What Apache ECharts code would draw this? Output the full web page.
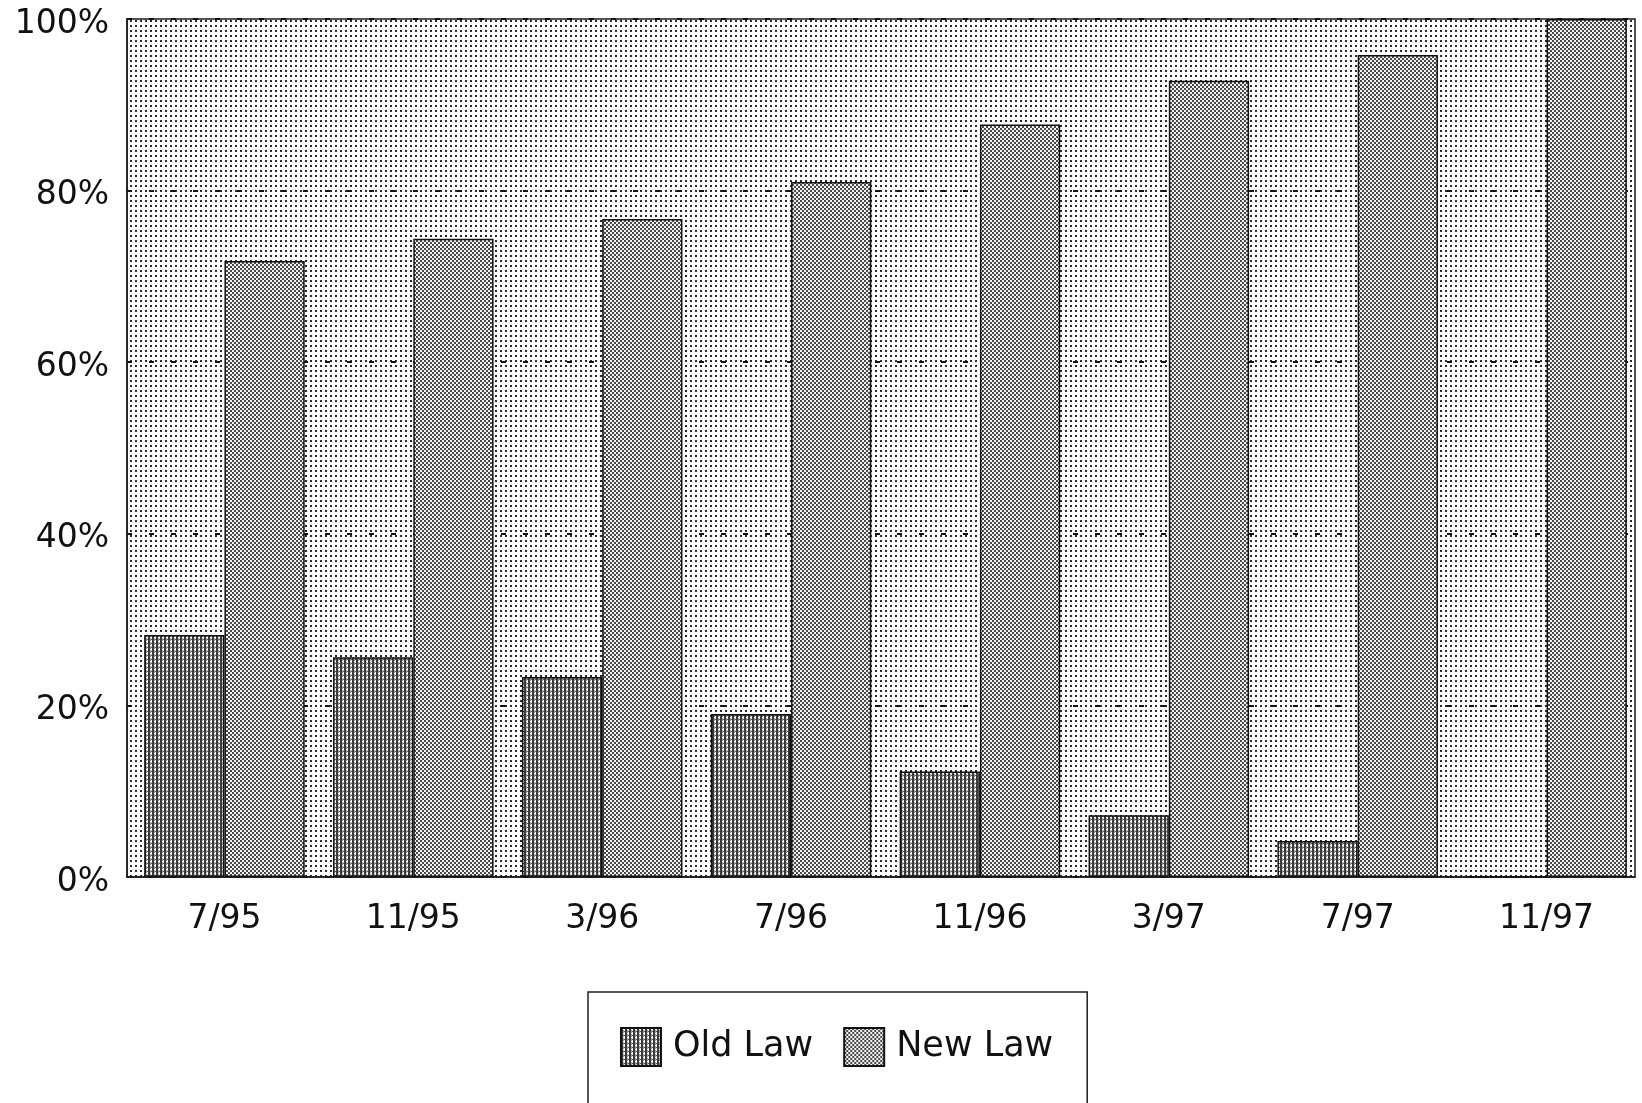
<!DOCTYPE html>
<html>
<head>
<meta charset="utf-8">
<script src="https://cdn.jsdelivr.net/npm/echarts@6/dist/echarts.min.js"></script>
<style>
html,body{margin:0;padding:0;background:#fff;}
#chart{width:1642px;height:1103px;}
</style>
</head>
<body>
<div id="chart"></div>
<script>
const categories = ['7/95', '11/95', '3/96', '7/96', '11/96', '3/97', '7/97', '11/97'];
const oldLaw = [28.2, 25.6, 23.3, 19.0, 12.3, 7.2, 4.2, 0];
const newLaw = [71.8, 74.4, 76.7, 81.0, 87.7, 92.8, 95.8, 100];
const yTicks = [0, 20, 40, 60, 80, 100];

function makePattern(size, draw) {
  const c = document.createElement('canvas');
  c.width = size; c.height = size;
  const ctx = c.getContext('2d');
  draw(ctx);
  return { image: c, repeat: 'repeat' };
}
// light dotted background
const bgPattern = makePattern(5, ctx => {
  ctx.fillStyle = '#ffffff'; ctx.fillRect(0, 0, 5, 5);
  ctx.fillStyle = '#2a2a2a'; ctx.fillRect(0, 0, 2, 2);
});
// New Law: dense checker dots
const newPattern = makePattern(4, ctx => {
  ctx.fillStyle = '#f2f2f2'; ctx.fillRect(0, 0, 4, 4);
  ctx.fillStyle = '#4a4a4a'; ctx.fillRect(0, 0, 2, 2); ctx.fillRect(2, 2, 2, 2);
});
// Old Law: dark vertical lines
const oldPattern = makePattern(4, ctx => {
  ctx.fillStyle = '#3a3a3a'; ctx.fillRect(0, 0, 4, 4);
  ctx.fillStyle = '#9a9a9a'; ctx.fillRect(2, 0, 1, 4);
  ctx.fillStyle = '#eeeeee'; ctx.fillRect(3, 0, 1, 4);
  ctx.fillStyle = '#ffffff'; ctx.fillRect(2, 1, 1, 1);
  ctx.fillStyle = '#555555'; ctx.fillRect(3, 3, 1, 1);
});

const FONT = 'DejaVu Sans';
const chart = echarts.init(document.getElementById('chart'), null, { renderer: 'canvas' });
chart.setOption({
  animation: false,
  backgroundColor: '#ffffff',
  grid: [
    { // frame, background, y axis
      left: 127, top: 19, right: 7, bottom: 226,
      show: true,
      backgroundColor: bgPattern,
      borderColor: '#1a1a1a',
      borderWidth: 1.5
    },
    { // bars & category labels
      left: 130, top: 19, right: 1, bottom: 226
    }
  ],
  legend: {
    left: 588, top: 992,
    data: ['Old Law', 'New Law'],
    padding: [35, 34, 40, 32],
    borderColor: '#222',
    borderWidth: 1.5,
    itemWidth: 40,
    itemHeight: 38,
    itemGap: 30,
    icon: 'rect',
    textStyle: { fontFamily: FONT, fontSize: 35, color: '#111', padding: [0, 0, 0, 7] }
  },
  xAxis: [
    {
      type: 'category', gridIndex: 0,
      data: categories,
      axisLine: { show: true, lineStyle: { color: '#1a1a1a', width: 1.5 } },
      axisTick: { show: false },
      axisLabel: { show: false },
      splitLine: { show: false }
    },
    {
      type: 'category', gridIndex: 1,
      data: categories,
      axisLine: { show: false },
      axisTick: { show: false },
      axisLabel: { fontFamily: FONT, fontSize: 33, color: '#111', margin: 26 },
      splitLine: { show: false }
    }
  ],
  yAxis: [
    {
      type: 'value', gridIndex: 0,
      min: yTicks[0],
      max: yTicks[yTicks.length - 1],
      interval: 20,
      axisLine: { show: true, lineStyle: { color: '#1a1a1a', width: 1.5 } },
      axisTick: { show: false },
      axisLabel: {
        fontFamily: FONT, fontSize: 33, color: '#111', margin: 18,
        formatter: v => '{a|' + v + '%}',
        rich: { a: { fontFamily: FONT, fontSize: 33, color: '#111', padding: [10, 0, 0, 0] } }
      },
      splitLine: { show: true, lineStyle: { color: '#111', width: 2, type: [5, 17] } }
    },
    {
      type: 'value', gridIndex: 1,
      min: yTicks[0],
      max: yTicks[yTicks.length - 1],
      interval: 20,
      show: false
    }
  ],
  series: [
    {
      name: 'Old Law', type: 'bar', data: oldLaw,
      xAxisIndex: 1, yAxisIndex: 1,
      barGap: '0%', barCategoryGap: '15%',
      itemStyle: { color: oldPattern, borderColor: '#111', borderWidth: 1.5 }
    },
    {
      name: 'New Law', type: 'bar', data: newLaw,
      xAxisIndex: 1, yAxisIndex: 1,
      barGap: '0%', barCategoryGap: '15%',
      itemStyle: { color: newPattern, borderColor: '#111', borderWidth: 1.5 }
    }
  ]
});
</script>
</body>
</html>
